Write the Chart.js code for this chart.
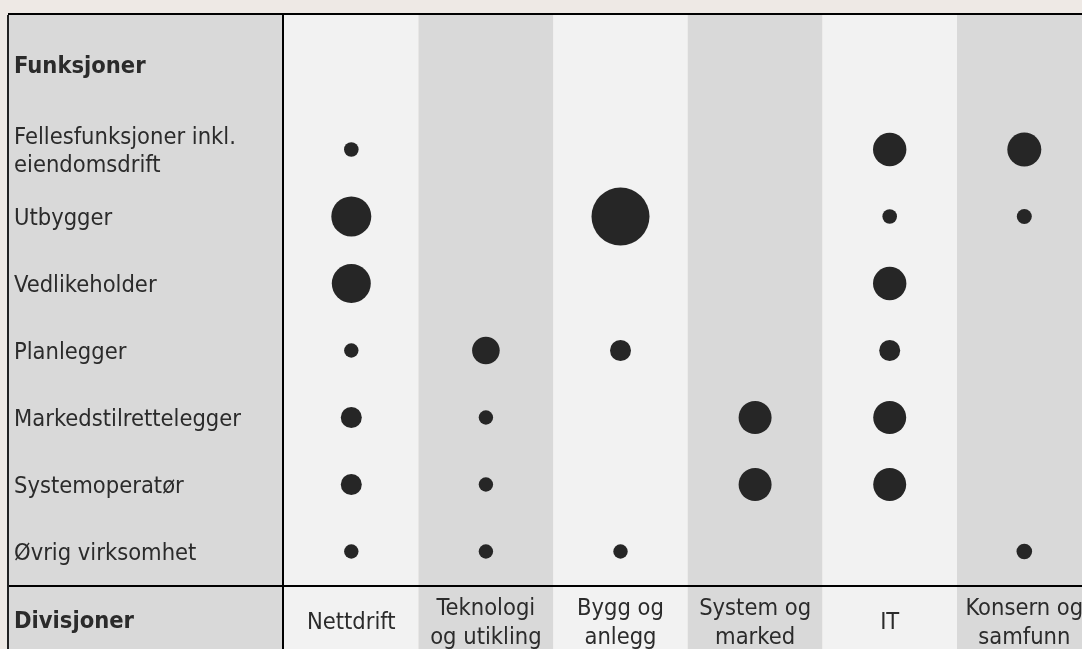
<!DOCTYPE html>
<html>
<head>
<meta charset="utf-8">
<script src="https://cdn.jsdelivr.net/npm/chart.js@4/dist/chart.umd.min.js"></script>
<style>
  html, body { margin: 0; padding: 0; background: #EEE9E5; overflow: hidden; }
  #wrap { width: 1082px; height: 649px; position: relative; }
</style>
</head>
<body>
<div id="wrap"><canvas id="matrix"></canvas></div>
<script>
// Column (division) labels, left to right
const divisions = [
  ['Nettdrift'],
  ['Teknologi', 'og utikling'],
  ['Bygg og', 'anlegg'],
  ['System og', 'marked'],
  ['IT'],
  ['Konsern og', 'samfunn']
];
// Row (function) labels, top to bottom
const functions = [
  ['Fellesfunksjoner inkl.', 'eiendomsdrift'],
  'Utbygger',
  'Vedlikeholder',
  'Planlegger',
  'Markedstilrettelegger',
  'Systemoperatør',
  'Øvrig virksomhet'
];
const functionsHeader = 'Funksjoner';
const divisionsHeader = 'Divisjoner';

// Bubble size for each function row, one list per division (null = no bubble)
const nettdrift    = [7.3, 20,   19.5, 7.2,  10.5, 10.5, 7.2];
const teknologi    = [null, null, null, 13.8, 7.2,  7.2,  7.2];
const byggAnlegg   = [null, 29,   null, 10.5, null, null, 7.2];
const systemMarked = [null, null, null, null, 16.5, 16.5, null];
const it           = [16.7, 7.3,  16.7, 10.5, 16.5, 16.5, null];
const konsern      = [17,   7.5,  null, null, null, null, 7.8];
const divisionValues = [nettdrift, teknologi, byggAnlegg, systemMarked, it, konsern];

const FAMILY = '"DejaVu Sans Condensed", "DejaVu Sans", sans-serif';
const FONT_SIZE = 23.5;
const TEXT = '#2b2b2b';
const HEADER_ROW = -1.27;   // where the "Funksjoner" heading sits on the row axis

const points = [];
divisionValues.forEach((vals, col) => {
  vals.forEach((v, row) => {
    if (v !== null) points.push({ x: col, y: row, r: v });
  });
});

// Striped table backdrop, rules and the footer heading of the label column
const tableBackdrop = {
  id: 'tableBackdrop',
  beforeDraw(chart) {
    const { ctx, chartArea: a, scales: { x } } = chart;
    const W = chart.width, H = chart.height;
    ctx.save();
    ctx.fillStyle = '#EEE9E5';
    ctx.fillRect(0, 0, W, H);
    ctx.fillStyle = '#D9D9D9';
    ctx.fillRect(8, a.top, a.left - 8, H - a.top);
    divisions.forEach((d, i) => {
      const l = x.getPixelForValue(i - 0.5);
      const r = x.getPixelForValue(i + 0.5);
      ctx.fillStyle = i % 2 ? '#D9D9D9' : '#F2F2F2';
      ctx.fillRect(l, a.top, r - l, H - a.top);
    });
    ctx.fillStyle = '#000';
    ctx.fillRect(8, a.top - 2, W - 8, 2);
    ctx.fillRect(a.left - 2, a.top, 2, H - a.top);
    ctx.fillRect(8, a.bottom - 1, W - 8, 2);
    ctx.fillStyle = '#222';
    ctx.fillRect(7, a.top, 2, H - a.top);

    ctx.fillStyle = TEXT;
    ctx.font = `bold ${FONT_SIZE}px ${FAMILY}`;
    ctx.textAlign = 'left';
    ctx.textBaseline = 'middle';
    ctx.fillText(divisionsHeader, 14, a.bottom + 36);
    ctx.restore();
  }
};

new Chart(document.getElementById('matrix'), {
  type: 'bubble',
  data: {
    datasets: [{
      data: points,
      backgroundColor: '#262626',
      borderWidth: 0,
      hoverBorderWidth: 0
    }]
  },
  options: {
    responsive: true,
    maintainAspectRatio: false,
    animation: false,
    events: [],
    layout: { autoPadding: false, padding: { left: 14, top: 15, right: 0, bottom: 0 } },
    plugins: { legend: { display: false }, tooltip: { enabled: false } },
    scales: {
      x: {
        type: 'linear',
        min: -0.5,
        max: -0.5 + 798 / 134.6,
        afterBuildTicks: s => { s.ticks = divisions.map((d, i) => ({ value: i })); },
        afterFit: s => { s.height = 63; s.paddingLeft = 0; s.paddingRight = 0; },
        grid: { display: false, drawTicks: false },
        border: { display: false },
        ticks: {
          autoSkip: false, maxRotation: 0, minRotation: 0,
          crossAlign: 'center', padding: 23, color: TEXT,
          font: { family: FAMILY, size: FONT_SIZE, lineHeight: 1.22 },
          callback: (v, i) => divisions[i]
        }
      },
      y: {
        type: 'linear',
        reverse: true,
        min: -2.007,
        max: 6.515,
        afterBuildTicks: s => {
          s.ticks = [HEADER_ROW].concat(functions.map((f, i) => i)).map(v => ({ value: v }));
        },
        afterFit: s => { s.width = 270; s.paddingTop = 0; s.paddingBottom = 0; },
        grid: { display: false, drawTicks: false },
        border: { display: false },
        ticks: {
          autoSkip: false, crossAlign: 'far', padding: 0, labelOffset: 2.5, color: TEXT,
          font: c => ({ family: FAMILY, size: FONT_SIZE, lineHeight: 1.22,
                        weight: c.index === 0 ? 'bold' : 'normal' }),
          callback: (v, i) => i === 0 ? functionsHeader : functions[i - 1]
        }
      }
    }
  },
  plugins: [tableBackdrop]
});
</script>
</body>
</html>
